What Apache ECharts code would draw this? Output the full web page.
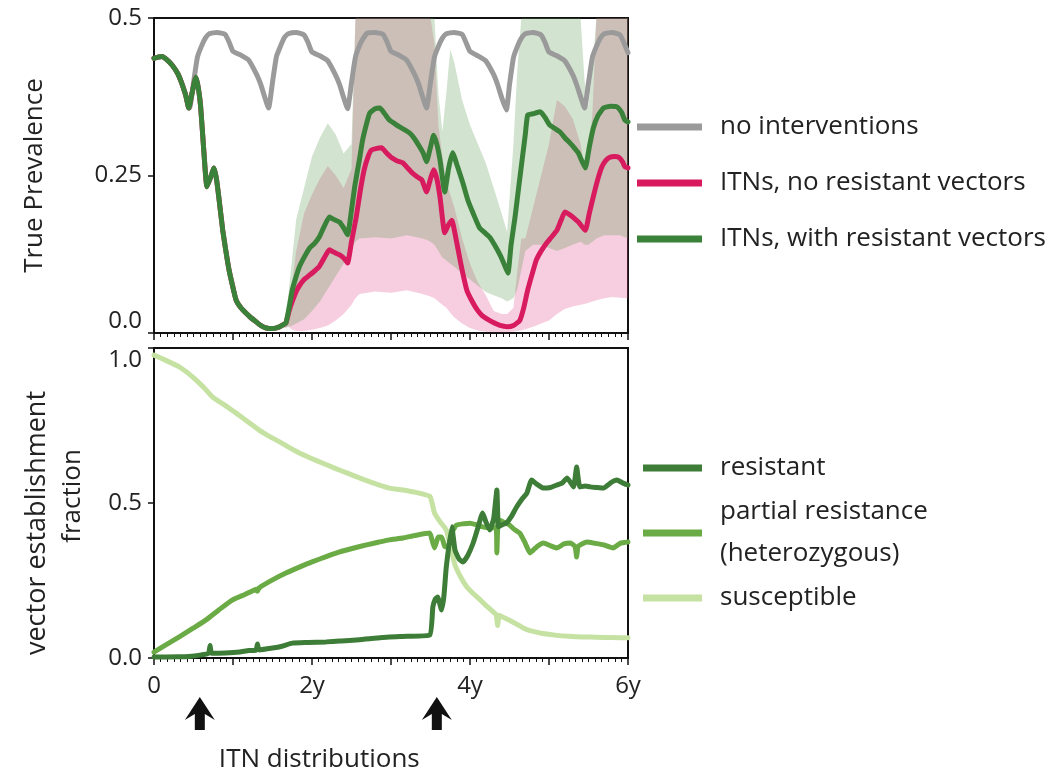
<!DOCTYPE html>
<html>
<head>
<meta charset="utf-8">
<script src="https://cdn.jsdelivr.net/npm/echarts@6/dist/echarts.min.js"></script>
<style>
html,body{margin:0;padding:0;background:#fff;}
#chart{width:1062px;height:774px;}
</style>
</head>
<body>
<div id="chart"></div>
<script>
// ---------- DATA ----------
const xTickLabels = ['0', '', '2y', '', '4y', '', '6y'];
const yTopTickLabels = ['0.0', '0.25', '0.5'];
const yBottomTickLabels = ['0.0', '0.5', '1.0'];
const itnDistributionTimes = [0.58, 3.58];

// True prevalence, [years, prevalence]
const noInterventions = [
[0,0.436],[0.1,0.439],[0.2,0.43],[0.3,0.412],[0.35,0.398],[0.4,0.378],[0.45,0.357],
[0.5,0.397],[0.55,0.438],[0.6,0.455],[0.65,0.468],[0.7,0.475],[0.8,0.477],[0.9,0.474],[0.95,0.462],[1.0,0.447],[1.1,0.441],[1.2,0.433],[1.3,0.41],[1.35,0.395],[1.4,0.375],[1.45,0.357],
[1.5,0.398],[1.55,0.439],[1.6,0.455],[1.65,0.469],[1.7,0.475],[1.8,0.477],[1.9,0.473],[1.95,0.461],[2.0,0.446],[2.1,0.44],[2.2,0.432],[2.3,0.409],[2.35,0.394],[2.4,0.374],[2.45,0.356],
[2.5,0.397],[2.55,0.438],[2.6,0.456],[2.65,0.468],[2.7,0.476],[2.8,0.477],[2.9,0.474],[2.95,0.462],[3.0,0.447],[3.1,0.441],[3.2,0.433],[3.3,0.41],[3.35,0.395],[3.4,0.375],[3.45,0.357],
[3.5,0.398],[3.55,0.438],[3.6,0.455],[3.65,0.468],[3.7,0.475],[3.8,0.477],[3.9,0.474],[3.95,0.461],[4.0,0.447],[4.1,0.44],[4.2,0.432],[4.3,0.41],[4.35,0.394],[4.4,0.374],[4.46,0.354],
[4.5,0.394],[4.55,0.437],[4.6,0.455],[4.65,0.468],[4.7,0.475],[4.8,0.477],[4.9,0.473],[4.95,0.461],[5.0,0.446],[5.1,0.44],[5.2,0.432],[5.3,0.41],[5.35,0.394],[5.4,0.375],[5.45,0.357],
[5.5,0.397],[5.55,0.438],[5.6,0.455],[5.65,0.468],[5.7,0.475],[5.8,0.477],[5.9,0.473],[5.95,0.46],[6.0,0.445]
];

const itnNoResistance = [
[0,0.436],[0.05,0.438],[0.1,0.439],[0.15,0.435],[0.23,0.425],[0.3,0.412],[0.34,0.40],[0.4,0.378],[0.44,0.357],[0.48,0.38],[0.53,0.406],[0.56,0.39],[0.59,0.36],[0.63,0.29],[0.67,0.232],[0.71,0.245],[0.76,0.262],[0.79,0.245],[0.82,0.216],[0.87,0.163],[0.91,0.13],[0.95,0.10],[1.0,0.072],[1.04,0.052],[1.1,0.04],[1.16,0.032],[1.22,0.025],[1.29,0.018],[1.35,0.012],[1.42,0.008],[1.5,0.007],[1.55,0.008],[1.62,0.012],[1.67,0.016],
[1.71,0.035],[1.75,0.05],[1.8,0.066],[1.84,0.075],[1.9,0.085],[1.97,0.092],[2.03,0.098],[2.09,0.105],[2.15,0.118],[2.22,0.132],[2.28,0.128],[2.35,0.124],[2.41,0.118],[2.45,0.111],[2.5,0.145],[2.56,0.184],[2.61,0.225],[2.66,0.259],[2.71,0.28],[2.75,0.29],[2.82,0.293],[2.88,0.294],[2.95,0.285],[3.01,0.278],[3.08,0.273],[3.15,0.27],[3.21,0.262],[3.27,0.254],[3.33,0.248],[3.39,0.243],[3.45,0.224],[3.5,0.245],[3.54,0.259],[3.58,0.245],[3.62,0.216],[3.68,0.159],[3.72,0.17],[3.77,0.179],[3.81,0.158],[3.85,0.132],[3.9,0.1],[3.96,0.068],[4.02,0.052],[4.09,0.037],[4.15,0.028],[4.22,0.022],[4.29,0.017],[4.38,0.012],[4.47,0.01],[4.55,0.012],[4.63,0.02],[4.68,0.04],[4.73,0.068],[4.79,0.095],[4.84,0.116],[4.9,0.13],[4.97,0.143],[5.03,0.152],[5.1,0.163],[5.15,0.178],[5.2,0.192],[5.26,0.188],[5.31,0.183],[5.38,0.175],[5.46,0.163],[5.51,0.19],[5.56,0.216],[5.62,0.245],[5.67,0.264],[5.72,0.274],[5.77,0.279],[5.83,0.28],[5.88,0.279],[5.93,0.272],[5.96,0.264],[6.0,0.262]
];

const itnWithResistance = [
[0,0.436],[0.05,0.438],[0.1,0.439],[0.15,0.435],[0.23,0.425],[0.3,0.412],[0.34,0.40],[0.4,0.378],[0.44,0.357],[0.48,0.38],[0.53,0.406],[0.56,0.39],[0.59,0.36],[0.63,0.29],[0.67,0.232],[0.71,0.245],[0.76,0.262],[0.79,0.245],[0.82,0.216],[0.87,0.163],[0.91,0.13],[0.95,0.10],[1.0,0.072],[1.04,0.052],[1.1,0.04],[1.16,0.032],[1.22,0.025],[1.29,0.018],[1.35,0.012],[1.42,0.008],[1.5,0.007],[1.55,0.008],[1.62,0.012],[1.67,0.016],
[1.71,0.04],[1.75,0.068],[1.8,0.09],[1.84,0.105],[1.9,0.12],[1.97,0.135],[2.03,0.142],[2.09,0.152],[2.15,0.168],[2.22,0.184],[2.28,0.18],[2.35,0.176],[2.41,0.165],[2.45,0.156],[2.5,0.195],[2.54,0.232],[2.6,0.275],[2.64,0.306],[2.69,0.332],[2.73,0.349],[2.8,0.356],[2.86,0.357],[2.92,0.348],[2.98,0.338],[3.05,0.332],[3.11,0.327],[3.18,0.322],[3.24,0.317],[3.3,0.308],[3.36,0.296],[3.41,0.285],[3.45,0.272],[3.5,0.295],[3.54,0.314],[3.58,0.3],[3.62,0.275],[3.68,0.224],[3.73,0.262],[3.78,0.286],[3.84,0.265],[3.91,0.238],[3.97,0.212],[4.04,0.19],[4.12,0.167],[4.18,0.16],[4.25,0.152],[4.31,0.14],[4.38,0.124],[4.43,0.11],[4.48,0.095],[4.52,0.14],[4.57,0.184],[4.62,0.235],[4.66,0.275],[4.7,0.315],[4.73,0.346],[4.8,0.348],[4.85,0.35],[4.89,0.351],[4.95,0.342],[5.01,0.330],[5.07,0.325],[5.14,0.319],[5.2,0.31],[5.27,0.301],[5.32,0.294],[5.37,0.286],[5.42,0.272],[5.46,0.262],[5.51,0.295],[5.56,0.325],[5.62,0.345],[5.69,0.357],[5.78,0.36],[5.86,0.359],[5.92,0.35],[5.96,0.338],[6.0,0.335]
];

// uncertainty bands (shared time grid)
const bandT = [1.65,1.7,1.75,1.8,1.9,2.0,2.1,2.2,2.3,2.4,2.5,2.55,2.6,2.8,3.0,3.2,3.4,3.45,3.5,3.55,3.6,3.65,3.7,3.75,3.8,3.9,4.0,4.1,4.2,4.3,4.4,4.47,4.55,4.6,4.65,4.7,4.8,4.9,5.0,5.1,5.2,5.3,5.4,5.45,5.5,5.55,5.6,5.7,5.8,5.9,6.0];
const noResBandLow  = [0.008,0.01,0.005,0.003,0.003,0.005,0.008,0.012,0.02,0.03,0.045,0.055,0.062,0.066,0.064,0.068,0.062,0.06,0.058,0.055,0.05,0.045,0.04,0.032,0.025,0.015,0.008,0.004,0.002,0.001,0.001,0.001,0.002,0.003,0.004,0.006,0.01,0.015,0.02,0.03,0.038,0.042,0.045,0.046,0.048,0.05,0.052,0.055,0.057,0.056,0.055];
const noResBandHigh = [0.02,0.04,0.08,0.13,0.19,0.22,0.245,0.265,0.25,0.23,0.26,0.5,0.5,0.5,0.5,0.5,0.5,0.5,0.5,0.46,0.33,0.28,0.24,0.22,0.2,0.15,0.11,0.08,0.06,0.035,0.03,0.03,0.04,0.1,0.15,0.15,0.2,0.25,0.3,0.37,0.36,0.34,0.3,0.26,0.27,0.35,0.5,0.5,0.5,0.5,0.5];
const resBandLow    = [0.008,0.01,0.012,0.015,0.022,0.035,0.05,0.07,0.09,0.11,0.135,0.145,0.15,0.152,0.15,0.155,0.15,0.148,0.145,0.14,0.13,0.12,0.115,0.11,0.105,0.095,0.085,0.075,0.065,0.06,0.055,0.05,0.055,0.07,0.1,0.13,0.14,0.14,0.135,0.13,0.135,0.14,0.145,0.14,0.14,0.145,0.15,0.155,0.155,0.155,0.15];
const resBandHigh   = [0.02,0.06,0.12,0.18,0.23,0.28,0.31,0.333,0.315,0.285,0.3,0.5,0.5,0.5,0.5,0.5,0.5,0.5,0.5,0.5,0.38,0.32,0.38,0.45,0.43,0.37,0.33,0.3,0.27,0.23,0.19,0.16,0.3,0.42,0.5,0.5,0.5,0.5,0.5,0.5,0.5,0.5,0.5,0.4,0.36,0.42,0.5,0.5,0.5,0.5,0.5];

// vector establishment fraction, [years, fraction]
const resistant = [
[0,0.003],[0.3,0.004],[0.44,0.005],[0.6,0.01],[0.69,0.015],[0.71,0.04],[0.73,0.015],[0.9,0.016],[1.08,0.019],[1.2,0.024],[1.29,0.025],[1.31,0.045],[1.33,0.026],[1.5,0.032],[1.62,0.038],[1.75,0.048],[1.95,0.05],[2.18,0.052],[2.35,0.055],[2.56,0.058],[2.75,0.063],[2.98,0.068],[3.2,0.07],[3.49,0.074],[3.53,0.165],[3.56,0.19],[3.59,0.197],[3.64,0.155],[3.67,0.2],[3.7,0.294],[3.77,0.423],[3.81,0.348],[3.86,0.32],[3.91,0.31],[3.97,0.33],[4.04,0.371],[4.1,0.42],[4.16,0.468],[4.2,0.44],[4.25,0.413],[4.3,0.45],[4.34,0.542],[4.36,0.423],[4.41,0.43],[4.46,0.435],[4.52,0.455],[4.59,0.487],[4.65,0.51],[4.72,0.532],[4.78,0.574],[4.85,0.56],[4.93,0.548],[5.02,0.55],[5.1,0.558],[5.17,0.565],[5.23,0.581],[5.31,0.552],[5.35,0.616],[5.39,0.552],[5.46,0.555],[5.52,0.552],[5.6,0.55],[5.69,0.548],[5.78,0.565],[5.86,0.574],[5.93,0.565],[6.0,0.558]
];
const partialResistance = [
[0,0.019],[0.15,0.042],[0.32,0.068],[0.5,0.097],[0.66,0.123],[0.82,0.155],[0.99,0.187],[1.15,0.205],[1.3,0.222],[1.31,0.215],[1.33,0.226],[1.5,0.252],[1.67,0.274],[1.84,0.293],[2.0,0.31],[2.18,0.327],[2.35,0.342],[2.52,0.354],[2.69,0.365],[2.85,0.374],[2.98,0.381],[3.15,0.387],[3.3,0.395],[3.49,0.403],[3.52,0.38],[3.55,0.355],[3.6,0.39],[3.64,0.39],[3.68,0.36],[3.72,0.358],[3.78,0.41],[3.83,0.429],[3.92,0.433],[4.0,0.435],[4.08,0.43],[4.16,0.423],[4.25,0.42],[4.33,0.42],[4.34,0.339],[4.36,0.445],[4.43,0.438],[4.5,0.429],[4.56,0.415],[4.63,0.403],[4.7,0.37],[4.76,0.339],[4.85,0.36],[4.93,0.371],[5.02,0.362],[5.1,0.355],[5.19,0.368],[5.27,0.371],[5.33,0.36],[5.35,0.326],[5.37,0.36],[5.48,0.374],[5.58,0.37],[5.69,0.365],[5.81,0.355],[5.9,0.37],[6.0,0.374]
];
const susceptible = [
[0,0.977],[0.15,0.96],[0.32,0.939],[0.45,0.915],[0.53,0.897],[0.64,0.87],[0.74,0.842],[0.9,0.815],[1.04,0.79],[1.2,0.76],[1.33,0.735],[1.46,0.715],[1.59,0.697],[1.72,0.678],[1.84,0.661],[2.0,0.643],[2.13,0.629],[2.3,0.611],[2.44,0.597],[2.6,0.581],[2.77,0.565],[2.98,0.548],[3.15,0.542],[3.3,0.535],[3.49,0.522],[3.52,0.5],[3.55,0.468],[3.62,0.44],[3.7,0.413],[3.76,0.35],[3.81,0.3],[3.88,0.262],[3.96,0.229],[4.04,0.208],[4.12,0.19],[4.2,0.17],[4.28,0.152],[4.33,0.14],[4.35,0.105],[4.37,0.138],[4.43,0.13],[4.5,0.122],[4.6,0.108],[4.68,0.096],[4.76,0.088],[4.9,0.08],[5.1,0.073],[5.25,0.07],[5.43,0.068],[5.6,0.067],[5.8,0.066],[6.0,0.065]
];

// ---------- CHART ----------
const FONT = 'Open Sans';
const TXT = '#222';
const TICK_FS = 24;
const TITLE_FS = 26;
const chart = echarts.init(document.getElementById('chart'), null, {renderer: 'canvas'});

function xAxisCfg(gi, showLabels) {
  return {
    type: 'value', gridIndex: gi, min: 0, max: 6, interval: 1,
    axisLine: {show: true, onZero: false, lineStyle: {color: '#111', width: 2}},
    axisTick: {show: true, length: 7, lineStyle: {color: '#111', width: 1.5}},
    minorTick: {show: true, splitNumber: 12, length: 4, lineStyle: {color: '#111', width: 1}},
    splitLine: {show: false},
    axisLabel: {show: showLabels, margin: 16, fontSize: TICK_FS, color: TXT, fontFamily: FONT,
      formatter: v => xTickLabels[Math.round(v)] || ''}
  };
}

function band(lo, hi, color) {
  return {
    type: 'custom', xAxisIndex: 0, yAxisIndex: 0, silent: true, z: 1,
    data: [[bandT[0], lo[0]]],
    renderItem: function (params, api) {
      const pts = [];
      for (let i = 0; i < bandT.length; i++) pts.push(api.coord([bandT[i], hi[i]]));
      for (let i = bandT.length - 1; i >= 0; i--) pts.push(api.coord([bandT[i], lo[i]]));
      return {type: 'polygon', shape: {points: pts}, style: {fill: color}};
    }
  };
}

function line(name, data, color, gi, width, z) {
  return {
    name: name, type: 'line', xAxisIndex: gi, yAxisIndex: gi, data: data,
    showSymbol: false, symbol: 'none', smooth: 0.15, z: z,
    lineStyle: {color: color, width: width, join: 'round', cap: 'round'},
    itemStyle: {color: color}, emphasis: {disabled: true}
  };
}

const option = {
  animation: false,
  backgroundColor: '#fff',
  textStyle: {fontFamily: FONT},
  grid: [
    {left: 154, top: 18, width: 474, height: 315, show: true, borderColor: '#111', borderWidth: 2, backgroundColor: 'transparent'},
    {left: 154, top: 348, width: 474, height: 310, show: true, borderColor: '#111', borderWidth: 2, backgroundColor: 'transparent'}
  ],
  xAxis: [xAxisCfg(0, false), xAxisCfg(1, true)],
  yAxis: [
    {type: 'value', gridIndex: 0, min: 0, max: 0.5, interval: 0.25,
     name: 'True Prevalence', nameLocation: 'middle', nameGap: 106,
     nameTextStyle: {fontSize: TITLE_FS, color: TXT, fontFamily: FONT},
     axisLine: {show: true, lineStyle: {color: '#111', width: 2}},
     axisTick: {show: true, length: 6, lineStyle: {color: '#111', width: 1.5}},
     splitLine: {show: false},
     axisLabel: {margin: 12, fontSize: TICK_FS, color: TXT, fontFamily: FONT,
       verticalAlignMinLabel: 'bottom',
       formatter: v => yTopTickLabels[Math.round(v / 0.25)]}},
    {type: 'value', gridIndex: 1, min: 0, max: 1, interval: 0.5,
     name: '{a|vector establishment}\n{b|fraction}', nameLocation: 'middle', nameGap: 64,
     nameTextStyle: {fontSize: TITLE_FS, color: TXT, fontFamily: FONT, lineHeight: 35, align: 'center',
       rich: {
         a: {fontSize: 27, color: TXT, fontFamily: FONT, lineHeight: 35, padding: [0, 40, 0, 0]},
         b: {fontSize: TITLE_FS, color: TXT, fontFamily: FONT, lineHeight: 35, padding: [0, 0, 0, 14]}
       }},
     axisLine: {show: true, lineStyle: {color: '#111', width: 2}},
     axisTick: {show: true, length: 6, lineStyle: {color: '#111', width: 1.5}},
     splitLine: {show: false},
     axisLabel: {margin: 12, fontSize: TICK_FS, color: TXT, fontFamily: FONT,
       verticalAlignMaxLabel: 'top',
       formatter: v => yBottomTickLabels[Math.round(v / 0.5)]}}
  ],
  legend: [
    {orient: 'vertical', left: 637, top: 113, icon: 'rect', itemWidth: 65, itemHeight: 7, itemGap: 28,
     padding: 0, selectedMode: false,
     textStyle: {fontSize: TITLE_FS, color: TXT, fontFamily: FONT, lineHeight: 28, padding: [0, 0, 0, 13]},
     data: ['no interventions', 'ITNs, no resistant vectors', 'ITNs, with resistant vectors']},
    {orient: 'vertical', left: 643, top: 447, icon: 'rect', itemWidth: 59, itemHeight: 7, itemGap: 2,
     padding: 0, selectedMode: false,
     textStyle: {fontSize: TITLE_FS, color: TXT, fontFamily: FONT, lineHeight: 42, padding: [0, 0, 0, 13]},
     formatter: n => n.replace(' (', '\n('),
     data: ['resistant', 'partial resistance (heterozygous)', 'susceptible']}
  ],
  series: [
    band(noResBandLow, noResBandHigh, 'rgba(225,80,140,0.28)'),
    band(resBandLow, resBandHigh, 'rgba(90,150,80,0.27)'),
    line('no interventions', noInterventions, '#9a9a9a', 0, 5, 3),
    line('ITNs, no resistant vectors', itnNoResistance, '#d81b5e', 0, 5, 4),
    line('ITNs, with resistant vectors', itnWithResistance, '#3a823a', 0, 5, 5),
    line('susceptible', susceptible, '#c6e2a3', 1, 5, 3),
    line('partial resistance (heterozygous)', partialResistance, '#6aab45', 1, 5, 4),
    line('resistant', resistant, '#3d7d37', 1, 5, 5)
  ]
};
chart.setOption(option);

// ITN distribution arrows, placed at data times on the lower x axis
function arrowShape(cx, top) {
  return [[cx, top], [cx + 15, top + 23], [cx + 5, top + 17], [cx + 5, top + 33],
          [cx - 5, top + 33], [cx - 5, top + 17], [cx - 15, top + 23]];
}
const arrowEls = itnDistributionTimes.map(t => {
  const p = chart.convertToPixel({xAxisIndex: 1, yAxisIndex: 1}, [t, 0]);
  return {type: 'polygon', shape: {points: arrowShape(p[0], p[1] + 39)}, style: {fill: '#111'}};
});
const mid = chart.convertToPixel({xAxisIndex: 1, yAxisIndex: 1}, [(itnDistributionTimes[0] + itnDistributionTimes[1]) / 2, 0]);
arrowEls.push({type: 'text', x: mid[0] + 1, y: mid[1] + 102,
  style: {text: 'ITN distributions', fontSize: TITLE_FS, fill: TXT, fontFamily: FONT, align: 'center', verticalAlign: 'middle'}});
chart.setOption({graphic: arrowEls});
</script>
</body>
</html>
